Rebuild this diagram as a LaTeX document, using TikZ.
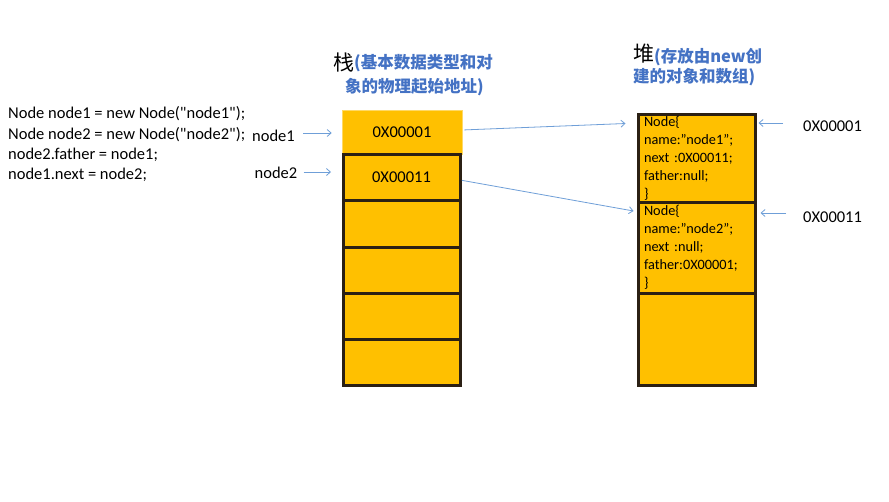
\documentclass[tikz,border=0pt]{standalone}
\usepackage{fontspec}
\setmainfont{Carlito}
\newfontfamily\cjk{Noto Sans CJK SC}
\usetikzlibrary{arrows.meta}
\definecolor{boxfill}{HTML}{FFC000}
\definecolor{boxline}{HTML}{2B2014}
\definecolor{firstline}{HTML}{FFD966}
\definecolor{arrowblue}{HTML}{6F9FD8}
\definecolor{titleblue}{HTML}{4472C4}
\begin{document}
\begin{tikzpicture}[x=1pt,y=-1pt,
  cell/.style={draw=boxline, line width=3pt, fill=boxfill, minimum width=117pt, inner sep=0pt, outer sep=0pt},
  topcell/.style={draw=firstline, line width=0.6pt, fill=boxfill, minimum width=120pt, minimum height=44pt, inner sep=0pt},
  heapcell/.style={cell, text width=106pt, inner xsep=5.5pt, align=left, font=\fontsize{14.3}{18.1}\selectfont},
  lbl/.style={inner sep=0pt, font=\fontsize{16.5}{20}\selectfont},
  arr/.style={draw=arrowblue, line width=0.8pt, -{Straight Barb[length=4pt,width=7pt]}},
  bigchar/.style={inner sep=0pt, anchor=west, font=\cjk\fontsize{21}{24}\selectfont},
  bluetitle/.style={inner sep=0pt, anchor=west, text=titleblue, font=\cjk\bfseries\fontsize{16.5}{20}\selectfont}]
\useasboundingbox[fill=white] (0,0) rectangle (889,501);

% code
\node[lbl, anchor=north west, align=left, font=\fontsize{16.5}{20.3}\selectfont] (code) at (8,106.5)
  {Node node1 = new Node(\textquotedbl node1\textquotedbl);\\
   Node node2 = new Node(\textquotedbl node2\textquotedbl);\\
   node2.father = node1;\\
   node1.next = node2;};

% titles
\node[bigchar] (zhan) at (333,63) {栈};
\node[bluetitle] (zhanA) at (354,63) {(基本数据类型和对};
\node[bluetitle] (zhanB) at (345,87) {象的物理起始地址)};
\node[bigchar] (dui) at (633,54) {堆};
\node[bluetitle] (duiA) at (654,57) {(存放由new创};
\node[bluetitle] (duiB) at (633,77) {建的对象和数组)};

% stack
\node[topcell, lbl] (s1) at (402,132) {0X00001};
\node[cell, minimum height=46pt, font=\fontsize{16.5}{20}\selectfont] (s2) at (401.5,177) {0X00011};
\node[cell, minimum height=47pt] (s3) at (401.5,223.5) {};
\node[cell, minimum height=46pt] (s4) at (401.5,270) {};
\node[cell, minimum height=46pt] (s5) at (401.5,316) {};
\node[cell, minimum height=46pt] (s6) at (401.5,362) {};

% heap
\node[heapcell, minimum height=87.5pt] (h1) at (697,158.25)
  {Node\{\\name:”node1”;\\next :0X00011;\\father:null;\\\}};
\node[heapcell, minimum height=91pt] (h2) at (697,247.5)
  {Node\{\\name:”node2”;\\next :null;\\father:0X00001;\\\}};
\node[cell, minimum height=92.5pt] (h3) at (697,339.25) {};

% labels
\node[lbl] (n1) at (273.5,136) {node1};
\node[lbl] (n2) at (276,173) {node2};
\node[lbl, anchor=west] (r1) at (803,126) {0X00001};
\node[lbl, anchor=west] (r2) at (803,217) {0X00011};

% arrows
\draw[arr, shorten <=8pt, shorten >=10pt] ([yshift=3pt]n1.east) -- ([yshift=3pt]n1.east -| s1.west);
\draw[arr, shorten <=6pt, shorten >=12pt] ([yshift=1pt]n2.east) -- ([yshift=1pt]n2.east -| s2.west);
\draw[arr, shorten <=2pt] ([yshift=2pt]s1.east) -- ([shift={(-13pt,-9pt)}]h1.north west);
\draw[arr, shorten <=2pt] ([yshift=-3pt]s2.east) -- ([shift={(-5pt,-9pt)}]h2.north west);
\draw[arr, shorten <=20pt, shorten >=3pt] ([yshift=3pt]r1.west) -- ([yshift=3pt]r1.west -| h1.east);
\draw[arr, shorten <=17pt, shorten >=5pt] ([yshift=4pt]r2.west) -- ([yshift=4pt]r2.west -| h2.east);
\end{tikzpicture}
\end{document}
